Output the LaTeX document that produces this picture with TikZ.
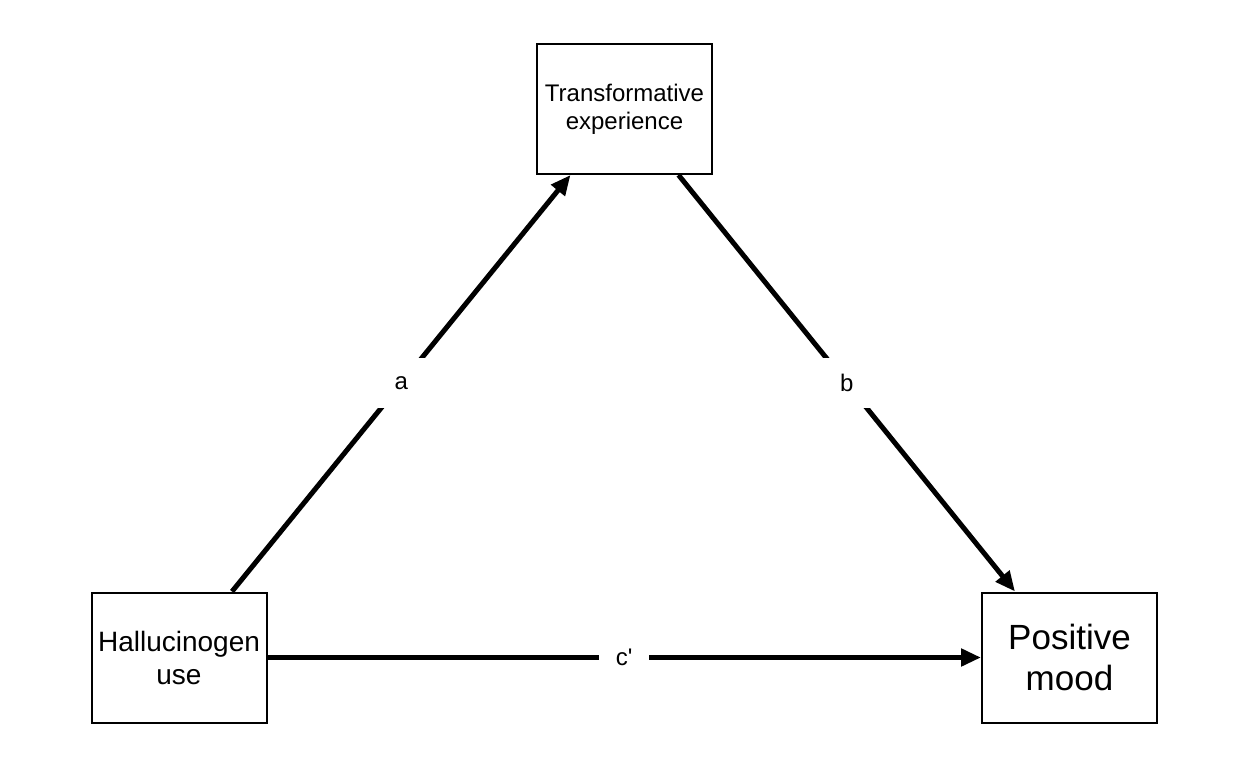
\documentclass[tikz,border=0pt]{standalone}
\usepackage{fontspec}
\setmainfont{Liberation Sans}
\newfontfamily\diagfont{Liberation Sans}
\usetikzlibrary{arrows.meta}

\begin{document}
\begin{tikzpicture}[x=1pt,y=1pt,
  var/.style={draw,line width=1pt,align=center,inner sep=0pt,
    minimum width=87.5pt,minimum height=65pt},
  effect/.style={line width=2.5pt,-{Triangle[length=10pt,width=8.5pt]}},
  lbl/.style={fill=white,minimum size=25pt,inner sep=0pt,
    font=\diagfont\fontsize{12}{14}\selectfont}]
\useasboundingbox (0,0) rectangle (624,384);
\node[var,font=\diagfont\fontsize{12}{13.85}\selectfont] (te) at (312.25,329.5) {Transformative\\experience};
\node[var,font=\diagfont\fontsize{14}{16.5}\selectfont] (hu) at (89.5,55.25) {Hallucinogen\\use};
\node[var,font=\diagfont\fontsize{17.5}{20.8}\selectfont] (pm) at (534.75,55.25) {Positive\\mood};

\draw[effect] ([xshift=26.5pt]hu.north) -- node[lbl] (a) {a} ([xshift=-27pt]te.south);
\draw[effect] ([xshift=27pt]te.south) -- node[lbl] (b) {b} ([xshift=-27.25pt]pm.north);
\draw[effect] (hu.east) -- node[lbl] (c) {c'} (pm.west);
\end{tikzpicture}
\end{document}
